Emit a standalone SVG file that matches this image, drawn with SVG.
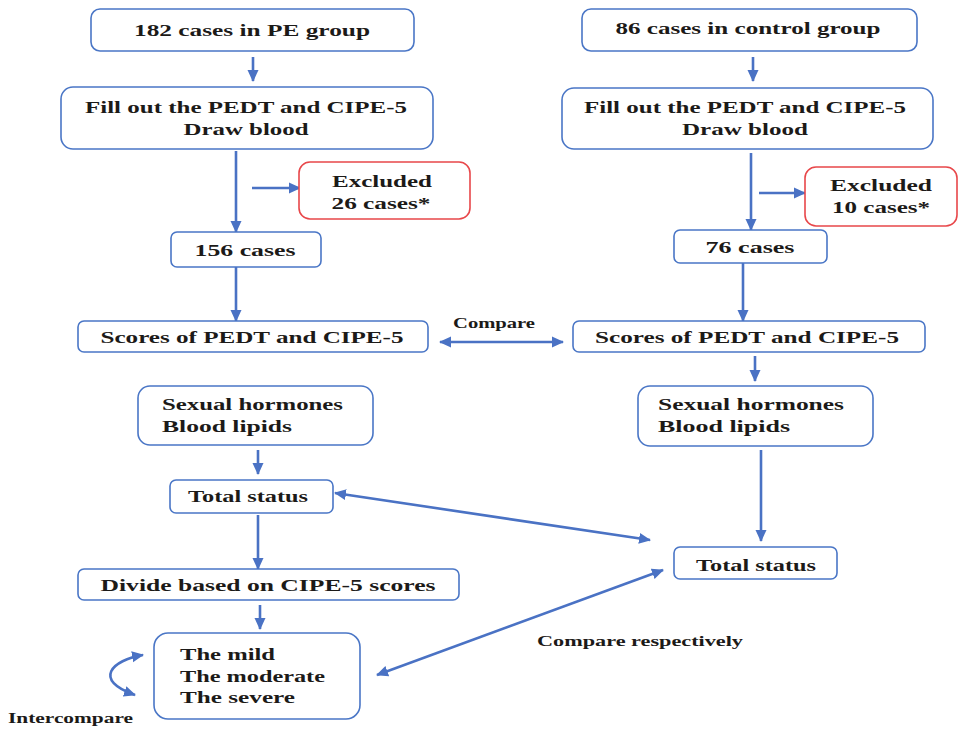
<svg xmlns="http://www.w3.org/2000/svg" width="959" height="729" viewBox="0 0 959 729">
<style>
.box{fill:#fff;stroke:#4a76c6;stroke-width:1.6}
.red{fill:#fff;stroke:#e8474a;stroke-width:1.6}
.t{font-family:"Liberation Serif","Times New Roman",serif;font-weight:bold;font-size:17px;fill:#1c1a18}
.s{font-family:"Liberation Serif","Times New Roman",serif;font-weight:bold;font-size:14px;fill:#1c1a18}
.c{text-anchor:middle}
.ln{stroke:#4a72c4;stroke-width:2.6;fill:none}
.one{marker-end:url(#ah)}
.two{marker-start:url(#ah);marker-end:url(#ah)}
</style>
<defs>
<marker id="ah" markerUnits="userSpaceOnUse" markerWidth="12" markerHeight="12" refX="11" refY="6" orient="auto-start-reverse" viewBox="0 0 12 12">
<path d="M0,0.5 L12,6 L0,11.5 z" fill="#4a72c4"/>
</marker>
</defs>
<rect width="959" height="729" fill="#fff"/>

<g id="connectors">
<line class="ln one" x1="253" y1="57" x2="253" y2="81"/>
<line class="ln one" x1="236" y1="151" x2="236" y2="232"/>
<line class="ln one" x1="252" y1="188" x2="300" y2="188"/>
<line class="ln one" x1="236" y1="267" x2="236" y2="321"/>
<line class="ln one" x1="753" y1="57" x2="753" y2="81"/>
<line class="ln one" x1="751" y1="153" x2="751" y2="230"/>
<line class="ln one" x1="759" y1="193" x2="805" y2="193"/>
<line class="ln one" x1="743" y1="263" x2="743" y2="321"/>
<line class="ln one" x1="755" y1="356" x2="755" y2="381"/>
<line class="ln one" x1="761" y1="450" x2="761" y2="541"/>
<line class="ln one" x1="258" y1="450" x2="258" y2="474"/>
<line class="ln one" x1="258" y1="515" x2="258" y2="569"/>
<line class="ln one" x1="260" y1="605" x2="260" y2="629"/>
<line class="ln two" x1="440" y1="342" x2="563" y2="342"/>
<line class="ln two" x1="335" y1="493" x2="650" y2="540"/>
<line class="ln two" x1="377" y1="675" x2="663" y2="570"/>
<path class="ln two" d="M143,655 C112,660 92,680 135,695"/>
<text class="s" x="453" y="328" textLength="82" lengthAdjust="spacingAndGlyphs">Compare</text>
<text class="s" x="537" y="646" textLength="206" lengthAdjust="spacingAndGlyphs">Compare respectively</text>
<text class="s" x="8" y="723" textLength="125" lengthAdjust="spacingAndGlyphs">Intercompare</text>
</g>

<g id="pe-group">
<rect class="box" x="91" y="9" width="323" height="42" rx="9"/>
<text class="t c" x="252" y="36" textLength="236" lengthAdjust="spacingAndGlyphs">182 cases in PE group</text>
</g>
<g id="pe-fill">
<rect class="box" x="61" y="87" width="372" height="62" rx="12"/>
<text class="t c" x="246" y="113" textLength="322" lengthAdjust="spacingAndGlyphs">Fill out the PEDT and CIPE-5</text>
<text class="t c" x="246" y="135" textLength="125" lengthAdjust="spacingAndGlyphs">Draw blood</text>
</g>
<g id="pe-excluded">
<rect class="red" x="299" y="162" width="171" height="57" rx="11"/>
<text class="t c" x="382" y="187" textLength="100" lengthAdjust="spacingAndGlyphs">Excluded</text>
<text class="t c" x="381" y="209" textLength="99" lengthAdjust="spacingAndGlyphs">26 cases*</text>
</g>
<g id="pe-156">
<rect class="box" x="171" y="232" width="150" height="35" rx="6"/>
<text class="t c" x="245" y="256" textLength="101" lengthAdjust="spacingAndGlyphs">156 cases</text>
</g>
<g id="pe-scores">
<rect class="box" x="78" y="321" width="350" height="31" rx="6"/>
<text class="t c" x="252" y="343" textLength="303" lengthAdjust="spacingAndGlyphs">Scores of PEDT and CIPE-5</text>
</g>
<g id="pe-hormones">
<rect class="box" x="138" y="386" width="235" height="59" rx="12"/>
<text class="t" x="162" y="410" textLength="181" lengthAdjust="spacingAndGlyphs">Sexual hormones</text>
<text class="t" x="162" y="432" textLength="130" lengthAdjust="spacingAndGlyphs">Blood lipids</text>
</g>
<g id="pe-total">
<rect class="box" x="170" y="480" width="163" height="33" rx="6"/>
<text class="t c" x="248" y="502" textLength="120" lengthAdjust="spacingAndGlyphs">Total status</text>
</g>
<g id="pe-divide">
<rect class="box" x="78" y="569" width="381" height="31" rx="6"/>
<text class="t c" x="268" y="591" textLength="335" lengthAdjust="spacingAndGlyphs">Divide based on CIPE-5 scores</text>
</g>
<g id="pe-severity">
<rect class="box" x="154" y="633" width="206" height="86" rx="14"/>
<text class="t" x="180" y="660" textLength="95" lengthAdjust="spacingAndGlyphs">The mild</text>
<text class="t" x="180" y="682" textLength="145" lengthAdjust="spacingAndGlyphs">The moderate</text>
<text class="t" x="180" y="703" textLength="115" lengthAdjust="spacingAndGlyphs">The severe</text>
</g>

<g id="ctrl-group">
<rect class="box" x="582" y="9" width="335" height="42" rx="9"/>
<text class="t c" x="748" y="34" textLength="265" lengthAdjust="spacingAndGlyphs">86 cases in control group</text>
</g>
<g id="ctrl-fill">
<rect class="box" x="562" y="88" width="371" height="61" rx="12"/>
<text class="t c" x="745" y="113" textLength="322" lengthAdjust="spacingAndGlyphs">Fill out the PEDT and CIPE-5</text>
<text class="t c" x="745" y="135" textLength="126" lengthAdjust="spacingAndGlyphs">Draw blood</text>
</g>
<g id="ctrl-excluded">
<rect class="red" x="805" y="167" width="152" height="59" rx="11"/>
<text class="t c" x="881" y="191" textLength="102" lengthAdjust="spacingAndGlyphs">Excluded</text>
<text class="t c" x="881" y="213" textLength="98" lengthAdjust="spacingAndGlyphs">10 cases*</text>
</g>
<g id="ctrl-76">
<rect class="box" x="674" y="230" width="153" height="33" rx="6"/>
<text class="t c" x="750" y="253" textLength="89" lengthAdjust="spacingAndGlyphs">76 cases</text>
</g>
<g id="ctrl-scores">
<rect class="box" x="573" y="321" width="352" height="31" rx="6"/>
<text class="t c" x="747" y="343" textLength="304" lengthAdjust="spacingAndGlyphs">Scores of PEDT and CIPE-5</text>
</g>
<g id="ctrl-hormones">
<rect class="box" x="638" y="386" width="235" height="60" rx="12"/>
<text class="t" x="658" y="410" textLength="186" lengthAdjust="spacingAndGlyphs">Sexual hormones</text>
<text class="t" x="658" y="432" textLength="132" lengthAdjust="spacingAndGlyphs">Blood lipids</text>
</g>
<g id="ctrl-total">
<rect class="box" x="674" y="547" width="163" height="32" rx="6"/>
<text class="t c" x="756" y="571" textLength="120" lengthAdjust="spacingAndGlyphs">Total status</text>
</g>
</svg>
